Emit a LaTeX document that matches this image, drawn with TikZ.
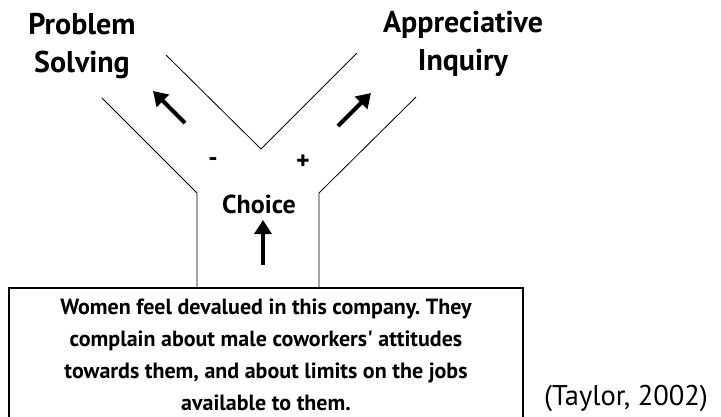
\documentclass[tikz,border=0pt]{standalone}
\usepackage{fontspec}
\setmainfont{PT Sans}
\frenchspacing
\usetikzlibrary{arrows.meta}
\tikzset{
  wall/.style={line width=0.8pt},
  push/.style={line width=4pt,-{Triangle[width=17pt,length=14pt]}},
  lbl/.style={font=\bfseries\fontsize{30}{38}\selectfont,align=center,inner sep=0pt},
  sign/.style={font=\bfseries\fontsize{26}{28}\selectfont,inner sep=0pt},
}
\begin{document}
\begin{tikzpicture}[x=1pt,y=-1pt]
\useasboundingbox (0,0) rectangle (721,416);
%\draw[help lines,step=20] (0,0) grid (721,416);
\draw[wall] (102,98)--(197,193)--(197,288);
\draw[wall] (416,97)--(319,193)--(319,288);
\draw[wall] (166,55)--(261,149)--(357,53);
\node[lbl] (problem) at (82,46) {Problem\\Solving};
\node[lbl] (appreciative) at (463,44) {Appreciative\\Inquiry};
\node[sign] (minus) at (213,162) {-};
\node[sign] (plus) at (303,162) {+};
\node[sign] (choice) at (259,204) {Choice};
\node[draw,line width=1.5pt,minimum width=514,minimum height=134,inner sep=0pt,
  align=center,font=\bfseries\fontsize{22}{32}\selectfont] (issue) at (266,355)
  {Women feel devalued in this company. They\\complain about male coworkers\textquotesingle{} attitudes\\towards them, and about limits on the jobs\\available to them.};
\node[anchor=base,font=\fontsize{28.5}{32}\selectfont,inner sep=0pt] (taylor) at (626,405) {(Taylor, 2002)};
\coordinate (ltail) at (185,123);
\coordinate (lhead) at (153,91);
\coordinate (rtail) at (338,126);
\coordinate (rhead) at (371,93);
\coordinate (utail) at (263,265);
\coordinate (uhead) at (263,220);
\draw[push] (ltail)--(lhead);
\draw[push] (rtail)--(rhead);
\draw[push] (utail)--(uhead);
\end{tikzpicture}
\end{document}
